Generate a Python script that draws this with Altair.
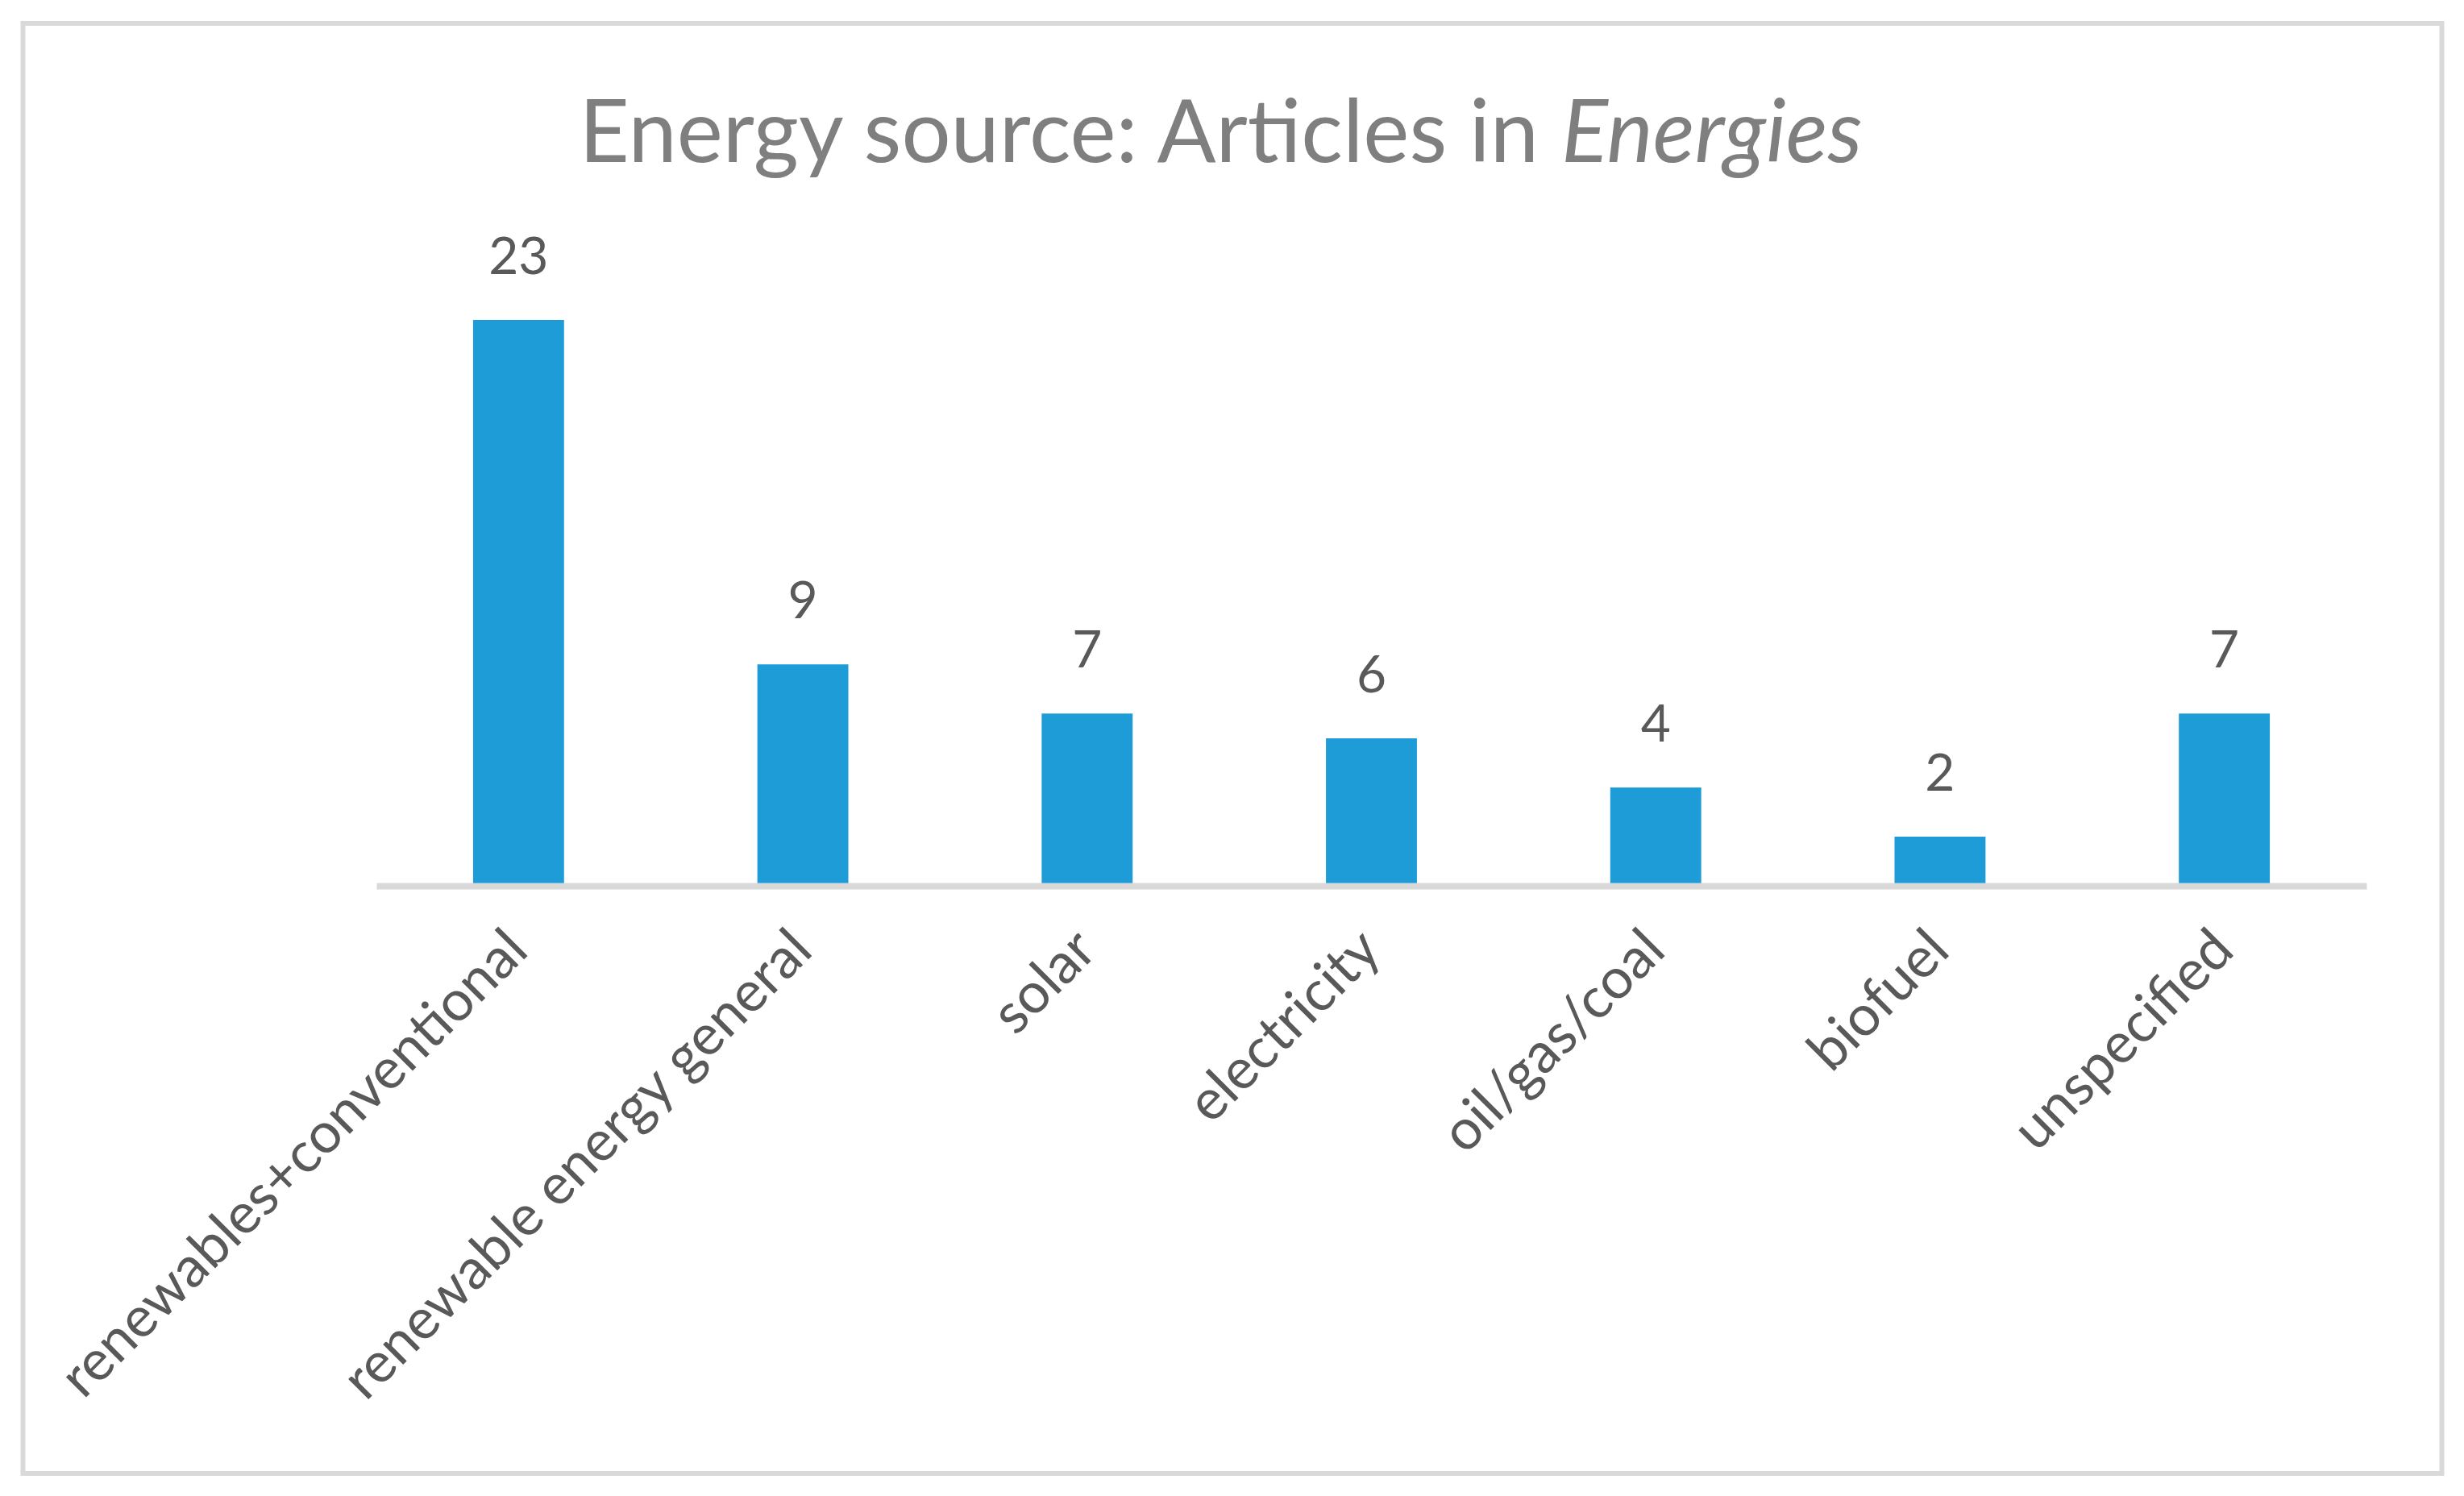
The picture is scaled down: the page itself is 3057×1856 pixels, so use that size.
import altair as alt
import pandas as pd

categories = ["renewables+conventional", "renewable energy general", "solar",
              "electricity", "oil/gas/coal", "biofuel", "unspecified"]
counts = [23, 9, 7, 6, 4, 2, 7]
title_plain = "Energy source: Articles in"
title_italic = "Energies"

FONT = "Lato"
BAR = "#1E9CD8"
GRAY = "#D9D9D9"
LABEL = "#595959"
TITLE = "#7F7F7F"

df = pd.DataFrame({"category": categories, "count": counts})

W, H = 2469, 763

x = alt.X("category:N", sort=categories, title=None,
          scale=alt.Scale(paddingInner=0.68, paddingOuter=0.34),
          axis=alt.Axis(labelAngle=-45, labelAlign="right", labelBaseline="middle",
                        labelFont=FONT, labelFontSize=70, labelColor=LABEL,
                        labelPadding=68, ticks=False, domainColor=GRAY,
                        domainWidth=8, zindex=1, labelLimit=2000))
y = alt.Y("count:Q", title=None, scale=alt.Scale(domain=[0, 25], nice=False),
          axis=None)

base = alt.Chart(df)
bars = base.mark_bar(color=BAR).encode(x=x, y=y)
labels = base.mark_text(font=FONT, fontSize=64, color=LABEL, baseline="alphabetic",
                        dy=-57).encode(x=x, y=y, text="count:Q")

border = alt.Chart(pd.DataFrame({"k": [0]})).mark_rect(
    fillOpacity=0, stroke=GRAY, strokeWidth=6).encode(
    x=alt.value(-438.5), x2=alt.value(2562.5), y=alt.value(-307), y2=alt.value(1492))

tdf = pd.DataFrame({"plain": [title_plain], "ital": [title_italic]})
t1 = alt.Chart(tdf).mark_text(font=FONT, fontSize=108, color=TITLE, align="right",
                              baseline="alphabetic").encode(
    x=alt.value(1442), y=alt.value(-135), text="plain:N")
t2 = alt.Chart(tdf).mark_text(font=FONT, fontSize=108, color=TITLE, align="left",
                              baseline="alphabetic", fontStyle="italic").encode(
    x=alt.value(1470), y=alt.value(-135), text="ital:N")

chart = alt.layer(border, bars, labels, t1, t2).properties(
    width=W, height=H,
    autosize=alt.AutoSizeParams(type="none"),
    padding={"left": 459, "top": 328, "right": 113, "bottom": 749},
    background="white",
).configure_view(stroke=None)

chart.save("out.html", embed_options={"renderer": "svg", "actions": False})
